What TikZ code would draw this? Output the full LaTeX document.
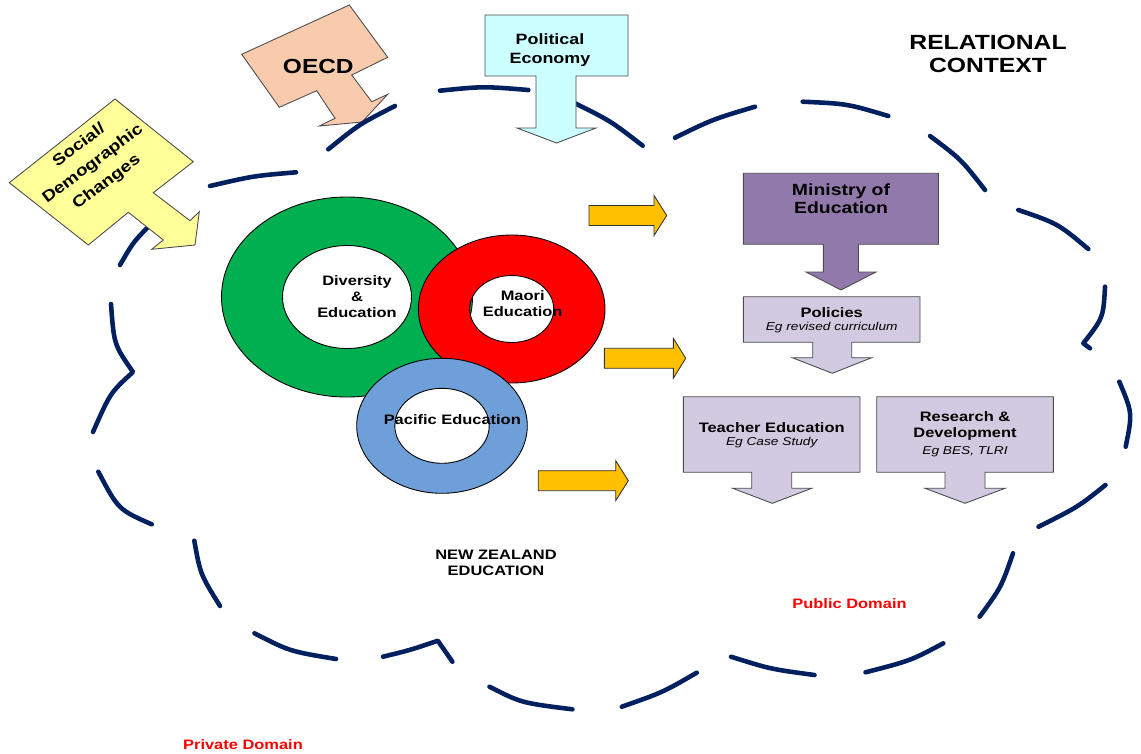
\documentclass[tikz,border=0pt]{standalone}
\usepackage{fontspec}
\setmainfont{Liberation Sans}[FakeStretch=1.2]

\definecolor{cloudnavy}{HTML}{002060}
\definecolor{socialyellow}{HTML}{FFFF99}
\definecolor{oecdpeach}{HTML}{F8CBAD}
\definecolor{politicalcyan}{HTML}{CCFFFF}
\definecolor{ministrypurple}{HTML}{9279AC}
\definecolor{boxlavender}{HTML}{D2CAE0}
\definecolor{arrowgold}{HTML}{FFC000}
\definecolor{ringgreen}{HTML}{00B050}
\definecolor{ringred}{HTML}{FF0000}
\definecolor{ringblue}{HTML}{6F9FD8}

\tikzset{
  cloudline/.style={draw=cloudnavy, line width=2.6pt, line cap=round, line join=round},
  ring/.style={draw=black, line width=0.5pt, even odd rule},
  callout/.style={draw=black!70, line width=0.5pt},
  goldarrow/.style={fill=arrowgold, draw=black!80, line width=0.5pt},
  txt/.style={font=\bfseries\fontsize{7.8}{9}\selectfont, align=center, inner sep=0pt},
  subtxt/.style={font=\itshape\fontsize{6.5}{8}\selectfont, inner sep=0pt},
  domaintxt/.style={txt, text=red},
}

\begin{document}
\begin{tikzpicture}[x=0.02cm,y=-0.02cm]

    \fill[white] (0,0) rectangle (1141,753);
    \useasboundingbox (0,0) rectangle (1141,753);

    % OECD sits under the cloud
    \filldraw[callout, fill=oecdpeach] (241.7,54.3) -- (349.3,5) -- (387.7,57.3) -- (351.7,75) -- (371.7,101.7) -- (387.7,94.3) -- (362,122) -- (319.3,126) -- (335,118.3) -- (316.7,90.7) -- (279.3,107.3) -- cycle;
    \node[txt, font=\bfseries\fontsize{11.6}{13}\selectfont] (oecd) at (318.3,66.7) {OECD};

    % the dashed cloud, one dash at a time
    \draw[cloudline] (111,304) .. controls (114,344.7) .. (133,372) .. controls (110.3,392.7) .. (93,432);
    \draw[cloudline] (98.3,471.7) .. controls (118.3,509.6) .. (151.7,524.3);
    \draw[cloudline] (194.3,540.7) .. controls (200.3,574.2) .. (220,606);
    \draw[cloudline] (254.5,633.3) .. controls (289.6,651.3) .. (336,659);
    \draw[cloudline] (383,656.7) .. controls (410.5,650) .. (437.8,640.7) -- (452.4,661.7);
    \draw[cloudline] (489.5,686.7) .. controls (521.2,702.9) .. (572.4,709.3);
    \draw[cloudline] (621.8,706.7) .. controls (662.7,692.4) .. (696.7,672.7);
    \draw[cloudline] (731,656.7) .. controls (770.4,669.1) .. (814.5,675);
    \draw[cloudline] (865.5,672.3) .. controls (910.5,660.7) .. (943.3,643.3);
    \draw[cloudline] (979.6,616.7) .. controls (1001.2,587.3) .. (1013,553.3);
    \draw[cloudline] (1038.5,526.7) .. controls (1077.9,507) .. (1105.5,485);
    \draw[cloudline] (1119.3,381.7) .. controls (1132.5,413) .. (1125.7,446.7);
    \draw[cloudline] (1105,286.7) .. controls (1103.3,317.7) .. (1083.3,343.3) -- (1090,348.3);
    \draw[cloudline] (1018.3,210) .. controls (1057.8,223.5) .. (1088.3,249);
    \draw[cloudline] (930,136) .. controls (960.8,159) .. (985,190);
    \draw[cloudline] (802.7,101.7) .. controls (847.1,103.7) .. (888.3,116);
    \draw[cloudline] (675,137.7) .. controls (712.7,119.3) .. (755,106.7);
    \draw[cloudline] (575,103.3) .. controls (610.4,120.8) .. (642.7,145.7);
    \draw[cloudline] (440,90.7) .. controls (483,86.3) .. (528.3,90);
    \draw[cloudline] (328.3,149.3) .. controls (359.4,124.1) .. (395,106);
    \draw[cloudline] (210,186) .. controls (253.4,175.9) .. (296,172.3);
    \draw[cloudline] (148.3,226.7) .. controls (133,242.5) .. (120,265);

    % outside influences
    \filldraw[callout, fill=politicalcyan] (485,15) -- (628,15) -- (628,76) -- (576,76) -- (576,128) -- (596,128) -- (556.5,143) -- (517,128) -- (536,128) -- (536,76) -- (485,76) -- cycle;
    \node[txt, font=\bfseries\fontsize{8.5}{10.5}\selectfont] (political) at (550,50) {Political\\Economy};

    \filldraw[callout, fill=socialyellow] (9.3,182.7) -- (115,99) -- (193.3,161.7) -- (153.3,192.7) -- (190,220.7) -- (199.3,211.7) -- (195,245) -- (151.7,249.3) -- (163.3,240) -- (128.3,212.3) -- (88.3,245) -- cycle;
    \node[txt, rotate=37, font=\bfseries\fontsize{9}{13}\selectfont] (social) at (93,164) {Social/\\Demographic\\Changes};

    \node[txt, font=\bfseries\fontsize{11.7}{13}\selectfont] (relational) at (988,54) {RELATIONAL\\CONTEXT};

    % the three rings
    \filldraw[ring, fill=ringgreen] (347,297) ellipse [x radius=125.5, y radius=100] (347,297) ellipse [x radius=64.5, y radius=51.5];
    \filldraw[ring, fill=ringred] (511.7,309) ellipse [x radius=93.3, y radius=74] (511.7,309) ellipse [x radius=42, y radius=33.5];
    \filldraw[ring, fill=ringblue] (442,425.8) ellipse [x radius=85.3, y radius=67.5] (442,425.8) ellipse [x radius=47.2, y radius=37.5];

    \node[txt] (diversity) at (357,296.5) {Diversity\\\&\\Education};
    \node[txt] (maori) at (522.7,303.3) {Maori\\Education};
    \node[txt] (pacific) at (452.3,419.3) {Pacific Education};
    \node[txt] (nzed) at (496,563.2) {NEW ZEALAND\\EDUCATION};

    % gold arrows into the public side
    \filldraw[goldarrow] (589,205.5) -- (654,205.5) -- (654,195.5) -- (666.7,215.5) -- (654,235.5) -- (654,225.5) -- (589,225.5) -- cycle;
    \filldraw[goldarrow] (604.3,348.3) -- (673.3,348.3) -- (673.3,338.3) -- (685.7,358.3) -- (673.3,378.3) -- (673.3,368.3) -- (604.3,368.3) -- cycle;
    \filldraw[goldarrow] (538.3,470.7) -- (615.7,470.7) -- (615.7,460.7) -- (628.3,480.7) -- (615.7,500.7) -- (615.7,490.7) -- (538.3,490.7) -- cycle;

    % public domain chain
    \filldraw[callout, fill=ministrypurple] (743.3,173.3) -- (938.3,173.3) -- (938.3,244.3) -- (858.3,244.3) -- (858.3,272) -- (876,272) -- (841,290) -- (806,272) -- (823.3,272) -- (823.3,244.3) -- (743.3,244.3) -- cycle;
    \node[txt, font=\bfseries\fontsize{9.2}{10.4}\selectfont] (ministry) at (841,199) {Ministry of\\Education};

    \filldraw[callout, fill=boxlavender] (743.3,296.7) -- (920,296.7) -- (920,342.3) -- (851.7,342.3) -- (851.7,357.7) -- (871.7,357.7) -- (832.3,373.3) -- (792.3,357.7) -- (812.7,357.7) -- (812.7,342.3) -- (743.3,342.3) -- cycle;
    \node[txt] (policies) at (831.7,312.3) {Policies};
    \node[subtxt] (policiessub) at (831.7,327.5) {Eg revised curriculum};

    \filldraw[callout, fill=boxlavender] (683.3,396.7) -- (860,396.7) -- (860,472.3) -- (791.7,472.3) -- (791.7,488.3) -- (811.7,488.3) -- (772.3,503.3) -- (732.7,488.3) -- (751.7,488.3) -- (751.7,472.3) -- (683.3,472.3) -- cycle;
    \node[txt] (teacher) at (771.7,427.3) {Teacher Education};
    \node[subtxt] (teachersub) at (771.7,443) {Eg Case Study};

    \filldraw[callout, fill=boxlavender] (876.7,396.7) -- (1053.3,396.7) -- (1053.3,472.3) -- (985,472.3) -- (985,488.3) -- (1005,488.3) -- (965,503.3) -- (925,488.3) -- (945,488.3) -- (945,472.3) -- (876.7,472.3) -- cycle;
    \node[txt] (research) at (965,426.2) {Research \&\\Development};
    \node[subtxt] (researchsub) at (965,451.5) {Eg BES, TLRI};

    \node[domaintxt] (public) at (849.5,603.3) {Public Domain};
    \node[domaintxt] (private) at (243,744.3) {Private Domain};

\end{tikzpicture}
\end{document}
